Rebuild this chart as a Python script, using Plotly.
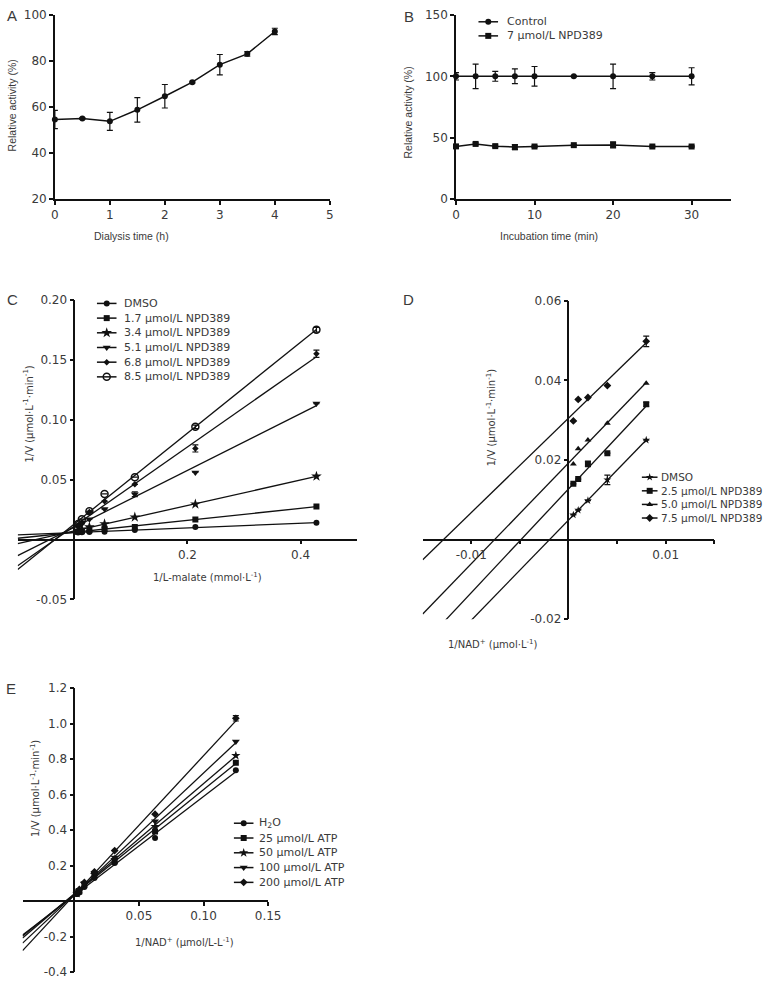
import numpy as np
import plotly.graph_objects as go

# ---------------- data ----------------
# A: dialysis
dialysis_h = [0, 0.5, 1, 1.5, 2, 2.5, 3, 3.5, 4]
activity_a = [54.6, 55.0, 53.8, 58.8, 64.7, 70.8, 78.4, 83.1, 92.8]
activity_a_err = [4.0, 0.4, 3.9, 5.3, 5.1, 0.4, 4.4, 1.0, 1.4]

# B: incubation
incubation_min = [0, 2.5, 5, 7.5, 10, 15, 20, 25, 30]
control_b = [100, 100, 100, 100, 100, 100, 100, 100, 100]
control_b_err = [3, 10, 4, 6, 8, 0.5, 10, 3, 7]
npd_b = [43.0, 45.0, 43.2, 42.4, 42.9, 44.0, 44.2, 42.9, 42.9]
npd_b_err = [1.0, 0.8, 0.8, 2.0, 0.8, 0.5, 2.4, 0.5, 0.5]
b_names = ["Control", "7 µmol/L NPD389"]

# C: 1/L-malate
malate_inv = [0.0067, 0.0134, 0.0267, 0.0535, 0.107, 0.214, 0.428]
c_dmso = [0.0058, 0.0060, 0.0063, 0.0065, 0.0080, 0.0104, 0.0139]
c_npd17 = [0.0065, 0.0068, 0.0077, 0.0090, 0.0104, 0.0167, 0.0276]
c_npd34 = [0.0075, 0.0085, 0.0104, 0.0130, 0.0186, 0.0295, 0.0527]
c_npd51 = [0.0105, 0.0130, 0.0170, 0.0254, 0.0377, 0.0560, 0.1134]
c_npd68 = [0.0120, 0.0145, 0.0230, 0.0320, 0.0460, 0.0760, 0.1550]
c_npd85 = [0.0130, 0.0170, 0.0235, 0.0380, 0.0520, 0.0940, 0.1750]
c_npd51_err = [0, 0, 0, 0, 0.002, 0, 0]
c_npd68_err = [0, 0, 0, 0, 0, 0.003, 0.003]
c_npd85_err = [0, 0, 0, 0, 0, 0.0015, 0.002]
c_names = ["DMSO", "1.7 µmol/L NPD389", "3.4 µmol/L NPD389",
           "5.1 µmol/L NPD389", "6.8 µmol/L NPD389", "8.5 µmol/L NPD389"]

# D: 1/NAD+
nad_inv_d = [0.0005, 0.001, 0.002, 0.004, 0.008]
d_dmso = [0.0062, 0.0074, 0.0098, 0.0150, 0.0250]
d_npd25 = [0.0140, 0.0152, 0.0190, 0.0217, 0.0340]
d_npd50 = [0.0190, 0.0228, 0.0250, 0.0292, 0.0393]
d_npd75 = [0.0298, 0.0352, 0.0357, 0.0387, 0.0498]
d_dmso_err = [0, 0, 0, 0.0012, 0]
d_npd25_err = [0, 0, 0.0007, 0, 0.0005]
d_npd75_err = [0, 0, 0, 0, 0.0013]
d_names = ["DMSO", "2.5 µmol/L NPD389", "5.0 µmol/L NPD389", "7.5 µmol/L NPD389"]

# E: 1/NAD+ with ATP
nad_inv_e = [0.00195, 0.0039, 0.0078, 0.0156, 0.03125, 0.0625, 0.125]
e_h2o = [0.040, 0.048, 0.080, 0.130, 0.215, 0.355, 0.738]
e_atp25 = [0.042, 0.055, 0.092, 0.145, 0.225, 0.392, 0.780]
e_atp50 = [0.043, 0.058, 0.098, 0.150, 0.235, 0.420, 0.820]
e_atp100 = [0.045, 0.062, 0.100, 0.155, 0.245, 0.450, 0.900]
e_atp200 = [0.047, 0.066, 0.105, 0.165, 0.285, 0.490, 1.030]
e_atp200_err = [0, 0, 0, 0, 0, 0, 0.015]
e_names = ["H<sub>2</sub>O", "25 µmol/L ATP", "50 µmol/L ATP",
           "100 µmol/L ATP", "200 µmol/L ATP"]

# ---------------- styling ----------------
W, H = 784, 984
INK = "#111111"
TXT = "#3a3a3a"
FONT = "DejaVu Sans"
FONT_AB = "Liberation Sans"


def dom_x(a, b):
    return [a / W, b / W]


def dom_y(top, bottom):
    return [1 - bottom / H, 1 - top / H]


def frac(v, rng, dom):
    return dom[0] + (v - rng[0]) / (rng[1] - rng[0]) * (dom[1] - dom[0])


def ax(**kw):
    d = dict(showline=True, linecolor=INK, linewidth=1.5, ticks="outside",
             ticklen=4, tickwidth=1.5, tickcolor=INK, showgrid=False,
             zeroline=False, fixedrange=True,
             tickfont=dict(family=FONT, size=12, color=TXT))
    d.update(kw)
    return d


def errbar(arr):
    return dict(type="data", array=arr, visible=True, color=INK, thickness=1.2, width=3)


def mk(symbol, size):
    if symbol.endswith("open"):
        return dict(symbol=symbol, size=size, color=INK, line=dict(color=INK, width=1.5))
    return dict(symbol=symbol, size=size, color=INK, line=dict(width=0))


fig = go.Figure()

# ---- panel A ----
fig.add_trace(go.Scatter(x=dialysis_h, y=activity_a, mode="lines+markers",
                         line=dict(color=INK, width=1.5), marker=mk("circle", 6),
                         error_y=errbar(activity_a_err), cliponaxis=False,
                         xaxis="x", yaxis="y"))

# ---- panel B ----
b_series = [(control_b, control_b_err, "circle", 6), (npd_b, npd_b_err, "square", 6)]
for ys, es, sym, sz in b_series:
    fig.add_trace(go.Scatter(x=incubation_min, y=ys, mode="lines+markers",
                             line=dict(color=INK, width=1.5), marker=mk(sym, sz),
                             error_y=errbar(es), cliponaxis=False,
                             xaxis="x2", yaxis="y2"))


# ---- Lineweaver-Burk panels ----
def add_lb(xs, ys, errs, sym, sz, xa, ya, x_left):
    k, b = np.polyfit(xs, ys, 1)
    xl = [x_left, max(xs)]
    fig.add_trace(go.Scatter(x=xl, y=[k * v + b for v in xl], mode="lines",
                             line=dict(color=INK, width=1.3), xaxis=xa, yaxis=ya,
                             hoverinfo="skip"))
    fig.add_trace(go.Scatter(x=xs, y=ys, mode="markers", marker=mk(sym, sz),
                             error_y=errbar(errs) if errs else None,
                             xaxis=xa, yaxis=ya))


C_RANGE_X, C_RANGE_Y = [-0.1, 0.5], [-0.05, 0.2]
D_RANGE_X, D_RANGE_Y = [-0.015, 0.015], [-0.02, 0.06]
E_RANGE_X, E_RANGE_Y = [-0.04, 0.15], [-0.4, 1.2]

c_series = [(c_dmso, None, "circle", 6), (c_npd17, None, "square", 6),
            (c_npd34, None, "star", 8), (c_npd51, c_npd51_err, "triangle-down", 7),
            (c_npd68, c_npd68_err, "diamond", 5), (c_npd85, c_npd85_err, "circle-open", 7)]
for ys, es, sym, sz in c_series:
    add_lb(malate_inv, ys, es, sym, sz, "x3", "y3", C_RANGE_X[0])

d_series = [(d_dmso, d_dmso_err, "star", 6), (d_npd25, d_npd25_err, "square", 6),
            (d_npd50, None, "triangle-up", 6), (d_npd75, d_npd75_err, "diamond", 6)]
for ys, es, sym, sz in d_series:
    add_lb(nad_inv_d, ys, es, sym, sz, "x4", "y4", D_RANGE_X[0])

e_series = [(e_h2o, None, "circle", 6), (e_atp25, None, "square", 6),
            (e_atp50, None, "star", 7), (e_atp100, None, "triangle-down", 7),
            (e_atp200, e_atp200_err, "diamond", 6)]
for ys, es, sym, sz in e_series:
    add_lb(nad_inv_e, ys, es, sym, sz, "x5", "y5", E_RANGE_X[0])


# ---- legends (drawn in pixel overlay space) ----
def add_legend(names, specs, key_x0, key_x1, text_x, y0, dy, size=11):
    for i, (name, spec) in enumerate(zip(names, specs)):
        y = y0 + i * dy
        fig.add_trace(go.Scatter(x=[key_x0, key_x1], y=[y, y], mode="lines",
                                 line=dict(color=INK, width=1.5), xaxis="x6", yaxis="y6",
                                 hoverinfo="skip"))
        fig.add_trace(go.Scatter(x=[(key_x0 + key_x1) / 2], y=[y], mode="markers",
                                 marker=mk(spec[2], spec[3]), xaxis="x6", yaxis="y6",
                                 hoverinfo="skip"))
        fig.add_annotation(x=text_x, y=y, xref="x6", yref="y6", text=name,
                           showarrow=False, xanchor="left", yanchor="middle",
                           font=dict(family=FONT, size=size, color=TXT))


add_legend(b_names, b_series, 485, 505, 512, 15, 14.3)
add_legend(c_names, c_series, 95, 115, 121, 300.7, 14.9)
add_legend(d_names, d_series, 652, 668, 670, 477, 13.8, size=10.5)
add_legend(e_names, e_series, 235, 255, 259, 828, 15.0)

# ---- text: panel letters and axis titles ----
def label(x, y, text, size=10, angle=0, family=FONT, xanchor="center"):
    fig.add_annotation(x=x, y=y, xref="x6", yref="y6", text=text, showarrow=False,
                       textangle=angle, xanchor=xanchor, yanchor="middle",
                       font=dict(family=family, size=size, color=TXT))


for letter, lx, ly in [("A", 1, 9), ("B", 407, 10), ("C", 1, 297), ("D", 406, 297), ("E", 0, 691)]:
    label(lx, ly, letter, size=15, family="Liberation Sans", xanchor="left")

V_TITLE = "1/V (µmol·L<sup>-1</sup>·min<sup>-1</sup>)"
label(130, 232, "Dialysis time (h)", size=10.5, family=FONT_AB)
label(8, 100, "Relative activity (%)", size=10.5, angle=-90, family=FONT_AB)
label(557, 232, "Incubation time (min)", size=10.5, family=FONT_AB)
label(413, 107, "Relative activity (%)", size=10.5, angle=-90, family=FONT_AB)
label(208, 578, "1/L-malate (mmol·L<sup>-1</sup>)", size=10)
label(25, 413, V_TITLE, size=10, angle=-90)
label(499, 646, "1/NAD<sup>+</sup> (µmol·L<sup>-1</sup>)", size=10)
label(498, 417, V_TITLE, size=10, angle=-90)
label(185, 948, "1/NAD<sup>+</sup> (µmol/L-L<sup>-1</sup>)", size=10)
label(31, 793, V_TITLE, size=10, angle=-90)

# ---- axes ----
A_X, A_Y = dom_x(52, 333), dom_y(8, 195)
B_X, B_Y = dom_x(462, 743), dom_y(8, 195)
C_X, C_Y = dom_x(14, 361), dom_y(297, 601)
D_X, D_Y = dom_x(428, 726), dom_y(298, 621)
E_X, E_Y = dom_x(19, 270), dom_y(691, 979)

fig.update_layout(
    width=W, height=H, margin=dict(l=0, r=0, t=0, b=0),
    paper_bgcolor="white", plot_bgcolor="rgba(0,0,0,0)", showlegend=False,
    xaxis=ax(domain=A_X, range=[0, 5], tickvals=[0, 1, 2, 3, 4, 5], anchor="y"),
    yaxis=ax(domain=A_Y, range=[20, 100], tickvals=[20, 40, 60, 80, 100], anchor="x"),
    xaxis2=ax(domain=B_X, range=[0, 35], tickvals=[0, 10, 20, 30], anchor="y2"),
    yaxis2=ax(domain=B_Y, range=[0, 150], tickvals=[0, 50, 100, 150], anchor="x2"),
    xaxis3=ax(domain=C_X, range=C_RANGE_X, tickvals=[0.2, 0.4], ticktext=["0.2", "0.4"],
              anchor="free", position=frac(0, C_RANGE_Y, C_Y)),
    yaxis3=ax(domain=C_Y, range=C_RANGE_Y, tickvals=[-0.05, 0.05, 0.1, 0.15, 0.2],
              ticktext=["-0.05", "0.05", "0.10", "0.15", "0.20"],
              anchor="free", position=frac(0, C_RANGE_X, C_X)),
    xaxis4=ax(domain=D_X, range=D_RANGE_X, tickvals=[-0.01, 0.01],
              ticktext=["-0.01", "0.01"],
              minor=dict(tickvals=[-0.005, 0.005, 0.015], ticks="outside", ticklen=4,
                         tickwidth=1.5, tickcolor=INK, showgrid=False),
              anchor="free", position=frac(0, D_RANGE_Y, D_Y)),
    yaxis4=ax(domain=D_Y, range=D_RANGE_Y, tickvals=[-0.02, 0.02, 0.04, 0.06],
              ticktext=["-0.02", "0.02", "0.04", "0.06"],
              anchor="free", position=frac(0, D_RANGE_X, D_X)),
    xaxis5=ax(domain=E_X, range=E_RANGE_X, tickvals=[0.05, 0.1, 0.15],
              ticktext=["0.05", "0.10", "0.15"],
              anchor="free", position=frac(0, E_RANGE_Y, E_Y)),
    yaxis5=ax(domain=E_Y, range=E_RANGE_Y,
              tickvals=[-0.4, -0.2, 0.2, 0.4, 0.6, 0.8, 1.0, 1.2],
              ticktext=["-0.4", "-0.2", "0.2", "0.4", "0.6", "0.8", "1.0", "1.2"],
              anchor="free", position=frac(0, E_RANGE_X, E_X)),
    xaxis6=dict(domain=[0, 1], range=[0, W], visible=False, fixedrange=True, anchor="y6"),
    yaxis6=dict(domain=[0, 1], range=[H, 0], visible=False, fixedrange=True, anchor="x6"),
)

# page body has a default 8px margin; remove it so the figure sits at the window origin
fig.write_html("out.html", config={"displayModeBar": False},
               post_script="document.body.style.margin='0';")
